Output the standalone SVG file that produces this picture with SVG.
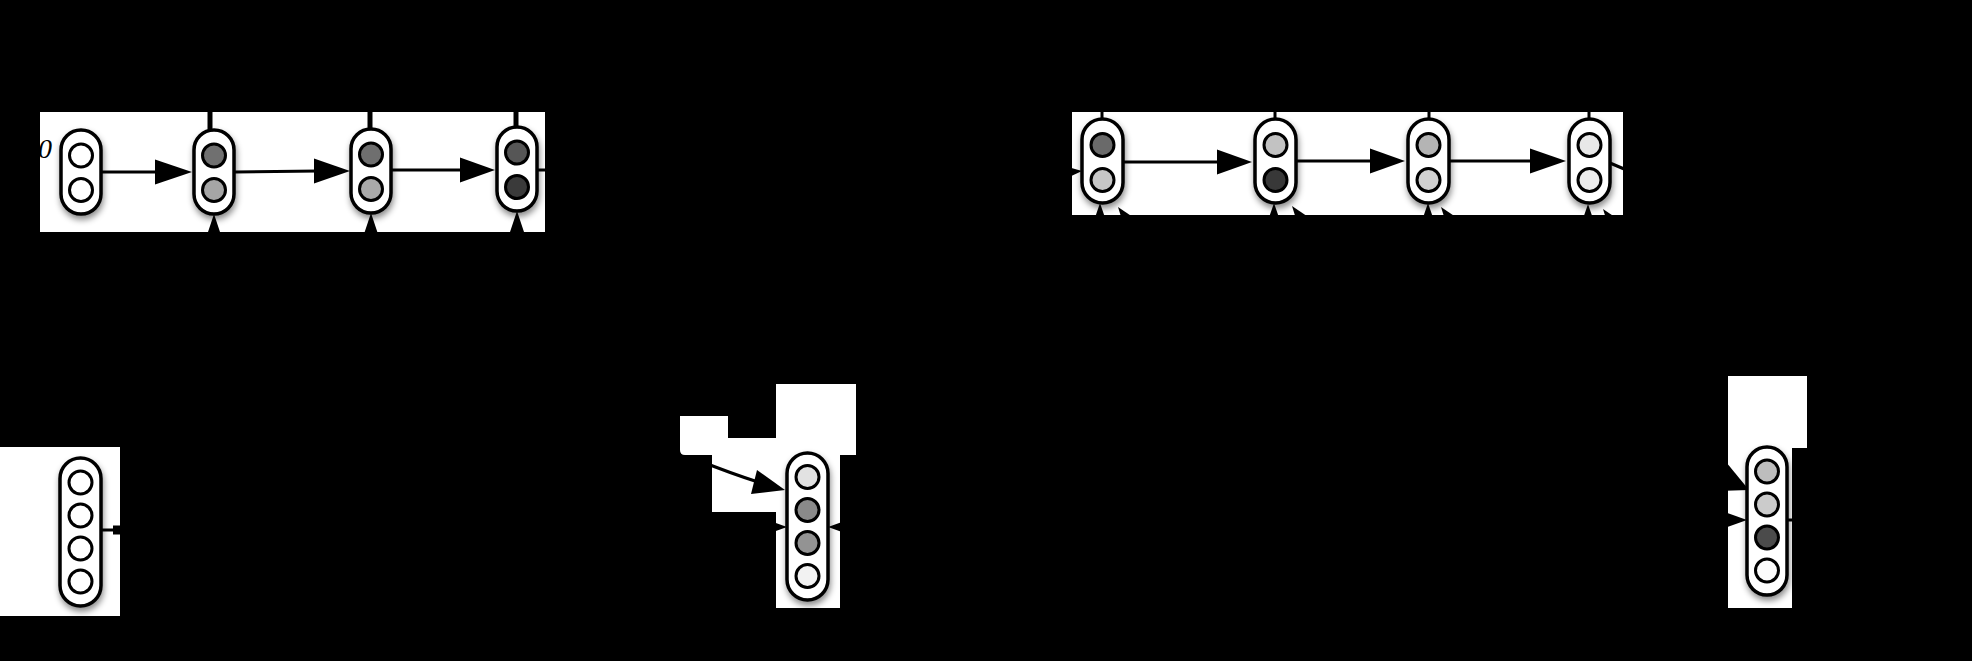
<svg xmlns="http://www.w3.org/2000/svg" width="1972" height="661" viewBox="0 0 1972 661">
<defs>
<filter id="sh" x="-40%" y="-30%" width="180%" height="170%">
<feDropShadow dx="1" dy="4" stdDeviation="3" flood-color="#000" flood-opacity="0.45"/>
</filter>
</defs>
<style>
.bg{fill:#000}
.panel{fill:#fff}
.pill{fill:#fff;stroke:#000;stroke-width:3.5;filter:url(#sh)}
.dot{stroke:#000;stroke-width:3}
.ln{stroke:#000;stroke-width:3;fill:none}
.stub{stroke:#000;stroke-width:5}
.head{fill:#000}
.lbl{font-family:"Liberation Serif",serif;font-style:italic;font-size:28px;fill:#000}
</style>
<rect class="bg" x="0" y="0" width="1972" height="661"/>
<g id="panels">
<rect class="panel" x="40" y="112" width="505" height="120"/>
<rect class="panel" x="1072" y="112" width="551" height="103"/>
<rect class="panel" x="0" y="447" width="120" height="169"/>
<path class="panel" d="M680 416 H728 V438 H776 V384 H856 V455 H840 V608 H776 V512 H712 V455 H685 Q680 455 680 450 Z"/>
<path class="panel" d="M1728 376 H1807 V448 H1792 V608 H1728 Z"/>
</g>
<text class="lbl" x="38" y="158">0</text>
<g id="connectors">
<line class="ln" x1="101" y1="172" x2="158" y2="172"/>
<polygon class="head" points="155,159.5 192,172 155,184.5"/>
<line class="ln" x1="235" y1="172" x2="318" y2="171"/>
<polygon class="head" points="314,158.5 350,171 314,183.5"/>
<line class="ln" x1="392" y1="170" x2="462" y2="170"/>
<polygon class="head" points="460,157.5 495,170 460,182.5"/>
<line class="ln" x1="537" y1="170" x2="560" y2="170"/>
<line class="stub" x1="210" y1="95" x2="210" y2="130"/>
<line class="stub" x1="370" y1="95" x2="370" y2="129"/>
<line class="stub" x1="516" y1="95" x2="516" y2="127"/>
<polygon class="head" points="214,214 202,250 226,250"/>
<polygon class="head" points="371,213 359,249 383,249"/>
<polygon class="head" points="517,211 505,247 529,247"/>
<line class="ln" x1="1123" y1="162" x2="1220" y2="162"/>
<polygon class="head" points="1217,149.5 1252,162 1217,174.5"/>
<line class="ln" x1="1296" y1="161" x2="1373" y2="161"/>
<polygon class="head" points="1370,148.5 1405,161 1370,173.5"/>
<line class="ln" x1="1450" y1="161" x2="1533" y2="161"/>
<polygon class="head" points="1530,148.5 1566,161 1530,173.5"/>
<line class="ln" x1="1610" y1="163" x2="1650" y2="180"/>
<line class="ln" x1="1102" y1="100" x2="1102" y2="119"/>
<line class="ln" x1="1275" y1="100" x2="1275" y2="119"/>
<line class="ln" x1="1429" y1="100" x2="1429" y2="119"/>
<line class="ln" x1="1589" y1="100" x2="1589" y2="119"/>
<polygon class="head" points="1100,203 1088,238 1112,238"/>
<polygon class="head" points="1274,203 1262,238 1286,238"/>
<polygon class="head" points="1428,203 1416,238 1440,238"/>
<polygon class="head" points="1588,204 1576,239 1600,239"/>
<polygon class="head" points="1118,207 1149,228 1129,242"/>
<polygon class="head" points="1292,206 1323,227 1303,241"/>
<polygon class="head" points="1441,207 1472,228 1452,242"/>
<polygon class="head" points="1603,209 1634,230 1614,244"/>
<polygon class="head" points="1082,171 1047,161 1050,186"/>
<line class="ln" x1="101" y1="530" x2="114" y2="530"/>
<rect class="head" x="113" y="525.5" width="7" height="9"/>
<path class="ln" d="M700 461 Q730 473 758 482"/>
<polygon class="head" points="785,490 751,494 757,470"/>
<polygon class="head" points="787,527 752,514.5 752,539.5"/>
<polygon class="head" points="828,527 863,514.5 863,539.5"/>
<polygon class="head" points="1749,490 1726,462 1718,491"/>
<polygon class="head" points="1747,520 1712,507.5 1712,532.5"/>
<line class="ln" x1="1787" y1="520" x2="1800" y2="520"/>
</g>
<g id="p1"><rect class="pill" x="61" y="130" width="40" height="84" rx="20"/><circle class="dot" cx="81" cy="155.5" r="11.5" fill="#fff"/><circle class="dot" cx="81" cy="190" r="11.5" fill="#fff"/></g>
<g id="p2"><rect class="pill" x="194" y="130" width="40" height="84" rx="20"/><circle class="dot" cx="214" cy="155.5" r="11.5" fill="#707070"/><circle class="dot" cx="214" cy="190" r="11.5" fill="#a6a6a6"/></g>
<g id="p3"><rect class="pill" x="351" y="129" width="40" height="84" rx="20"/><circle class="dot" cx="371" cy="154.5" r="11.5" fill="#6f6f6f"/><circle class="dot" cx="371" cy="189" r="11.5" fill="#a9a9a9"/></g>
<g id="p4"><rect class="pill" x="497" y="127" width="40" height="84" rx="20"/><circle class="dot" cx="517" cy="152.5" r="11.5" fill="#565656"/><circle class="dot" cx="517" cy="187" r="11.5" fill="#3a3a3a"/></g>
<g id="q1"><rect class="pill" x="1082" y="119" width="41" height="84" rx="20.5"/><circle class="dot" cx="1102.5" cy="145" r="11.5" fill="#6a6a6a"/><circle class="dot" cx="1102.5" cy="180" r="11.5" fill="#c6c6c6"/></g>
<g id="q2"><rect class="pill" x="1255" y="119" width="41" height="84" rx="20.5"/><circle class="dot" cx="1275.5" cy="145" r="11.5" fill="#c2c2c2"/><circle class="dot" cx="1275.5" cy="180" r="11.5" fill="#383838"/></g>
<g id="q3"><rect class="pill" x="1408" y="119" width="41" height="84" rx="20.5"/><circle class="dot" cx="1428.5" cy="145" r="11.5" fill="#b4b4b4"/><circle class="dot" cx="1428.5" cy="180" r="11.5" fill="#d2d2d2"/></g>
<g id="q4"><rect class="pill" x="1569" y="119" width="41" height="84" rx="20.5"/><circle class="dot" cx="1589.5" cy="145" r="11.5" fill="#e8e8e8"/><circle class="dot" cx="1589.5" cy="180" r="11.5" fill="#ececec"/></g>
<g id="b1"><rect class="pill" x="60" y="458" width="41" height="148" rx="20.5"/><circle class="dot" cx="80.5" cy="482.5" r="11.5" fill="#fff"/><circle class="dot" cx="80.5" cy="515.5" r="11.5" fill="#fff"/><circle class="dot" cx="80.5" cy="548.5" r="11.5" fill="#fff"/><circle class="dot" cx="80.5" cy="581.5" r="11.5" fill="#fff"/></g>
<g id="b2"><rect class="pill" x="787" y="453" width="41" height="147" rx="20.5"/><circle class="dot" cx="807.5" cy="477" r="11.5" fill="#e2e2e2"/><circle class="dot" cx="807.5" cy="510" r="11.5" fill="#8a8a8a"/><circle class="dot" cx="807.5" cy="543" r="11.5" fill="#939393"/><circle class="dot" cx="807.5" cy="576" r="11.5" fill="#f2f2f2"/></g>
<g id="b3"><rect class="pill" x="1747" y="447" width="40" height="148" rx="20"/><circle class="dot" cx="1767" cy="471.5" r="11.5" fill="#bdbdbd"/><circle class="dot" cx="1767" cy="504.5" r="11.5" fill="#cbcbcb"/><circle class="dot" cx="1767" cy="537.5" r="11.5" fill="#4b4b4b"/><circle class="dot" cx="1767" cy="570.5" r="11.5" fill="#fbfbfb"/></g>
</svg>
